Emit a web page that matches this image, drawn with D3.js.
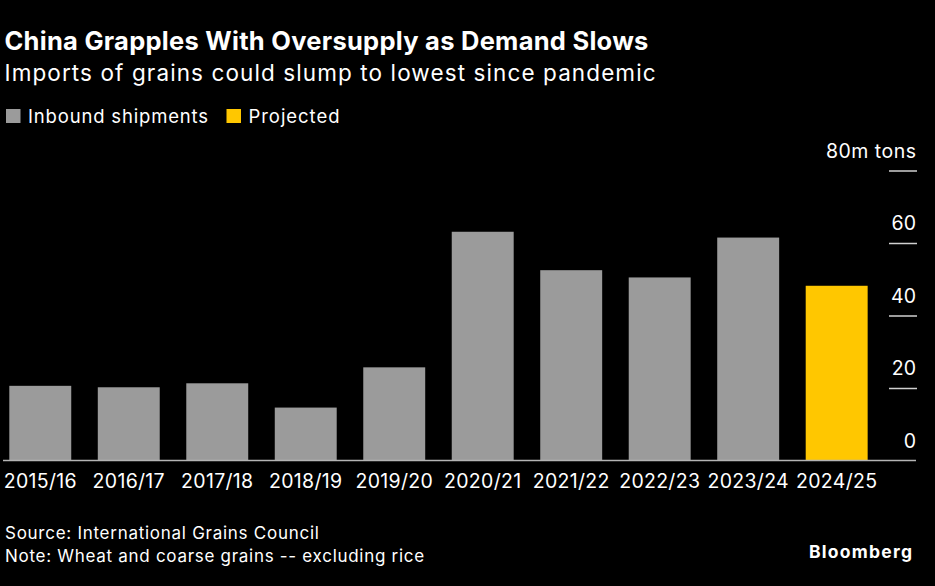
<!DOCTYPE html>
<html>
<head>
<meta charset="utf-8">
<script src="https://cdn.jsdelivr.net/npm/d3@7/dist/d3.min.js"></script>
<style>
  html, body { margin: 0; padding: 0; background: #000; }
  svg { display: block; }
  text { font-family: Inter, "Liberation Sans", Helvetica, Arial, sans-serif; fill: #fff; }
</style>
</head>
<body>
<svg id="chart" width="935" height="586"></svg>
<script>
const categories = ["2015/16","2016/17","2017/18","2018/19","2019/20","2020/21","2021/22","2022/23","2023/24","2024/25"];
const values = [20.6, 20.2, 21.3, 14.6, 25.7, 63.1, 52.5, 50.5, 61.5, 48.2];
const projected = [false,false,false,false,false,false,false,false,false,true];
const yTicks = [0, 20, 40, 60, 80];
const legendLabels = ["Inbound shipments", "Projected"];

const colors = { actual: "#9b9b9b", projected: "#ffc700" };

const svg = d3.select("#chart");

// stretch text to the width measured in the reference
function fit(sel, target) {
  const w = sel.node().getComputedTextLength();
  const n = sel.text().length;
  if (n > 1) sel.attr("letter-spacing", ((target - w) / (n - 1)).toFixed(2));
  return sel;
}

// Titles
fit(svg.append("text").attr("x", 4.5).attr("y", 49.5)
  .attr("font-size", 25.5).attr("font-weight", "bold")
  .text("China Grapples With Oversupply as Demand Slows"), 644);
fit(svg.append("text").attr("x", 4.5).attr("y", 81)
  .attr("font-size", 22.5)
  .text("Imports of grains could slump to lowest since pandemic"), 651);

// Legend
const legItems = [
  { label: legendLabels[0], color: colors.actual, x: 6, w: 180 },
  { label: legendLabels[1], color: colors.projected, x: 226.5, w: 91 }
];
legItems.forEach(d => {
  svg.append("rect").attr("x", d.x).attr("y", 109).attr("width", 14.5).attr("height", 14).attr("fill", d.color);
  fit(svg.append("text").attr("x", d.x + 22).attr("y", 122.5).attr("font-size", 18.5).text(d.label), d.w);
});

// Scales
const x = d3.scaleBand().domain(categories).range([0.45, 876.5]).paddingInner(0.3).paddingOuter(0.1);
const y = d3.scaleLinear().domain([0, 80]).range([460.5, 170.5]);

// Bars
svg.append("g").selectAll("rect").data(categories).join("rect")
  .attr("x", d => x(d))
  .attr("width", x.bandwidth())
  .attr("y", (d, i) => y(values[i]))
  .attr("height", (d, i) => y(0) - y(values[i]))
  .attr("fill", (d, i) => projected[i] ? colors.projected : colors.actual);

// Baseline
svg.append("line").attr("x1", 3).attr("x2", 916).attr("y1", y(0)).attr("y2", y(0))
  .attr("stroke", "#b5b5b5").attr("stroke-width", 1.5);

// Y axis (right)
const yAxis = d3.axisLeft(y).tickValues(yTicks).tickSize(28)
  .tickFormat(d => d === 80 ? "80m tons" : d);
const gy = svg.append("g").attr("transform", "translate(917,0)").call(yAxis);
gy.select(".domain").remove();
gy.selectAll(".tick line").attr("stroke", "#d0d0d0").attr("stroke-width", 1.5)
  .filter(d => d === 0).remove();
gy.selectAll(".tick text")
  .attr("x", -1).attr("dy", null).attr("y", -13.5)
  .attr("text-anchor", "end")
  .attr("font-size", 19.5)
  .attr("font-family", "Liberation Sans, Helvetica, Arial, sans-serif")
  .attr("fill", "#fff");
gy.selectAll(".tick text").filter(d => d === 80).each(function () {
  const t = d3.select(this);
  const w = this.getComputedTextLength();
  const n = t.text().length;
  const ls = (90 - w) / (n - 1);
  t.attr("letter-spacing", ls.toFixed(2)).attr("x", -1 + ls);
});

// X axis
const xAxis = d3.axisBottom(x).tickSize(0).tickPadding(0);
const gx = svg.append("g").attr("transform", `translate(0,${y(0)})`).call(xAxis);
gx.select(".domain").remove();
gx.selectAll(".tick text")
  .attr("dy", null).attr("y", 27)
  .attr("font-size", 19.5)
  .attr("font-family", "Liberation Sans, Helvetica, Arial, sans-serif")
  .attr("letter-spacing", 0.3)
  .attr("fill", "#fff");

// Footer
fit(svg.append("text").attr("x", 5).attr("y", 539).attr("font-size", 17)
  .text("Source: International Grains Council"), 314);
fit(svg.append("text").attr("x", 5).attr("y", 562).attr("font-size", 17)
  .text("Note: Wheat and coarse grains -- excluding rice"), 419);
fit(svg.append("text").attr("x", 809).attr("y", 558).attr("font-size", 17.5)
  .attr("font-weight", "bold")
  .text("Bloomberg"), 103);
</script>
</body>
</html>
